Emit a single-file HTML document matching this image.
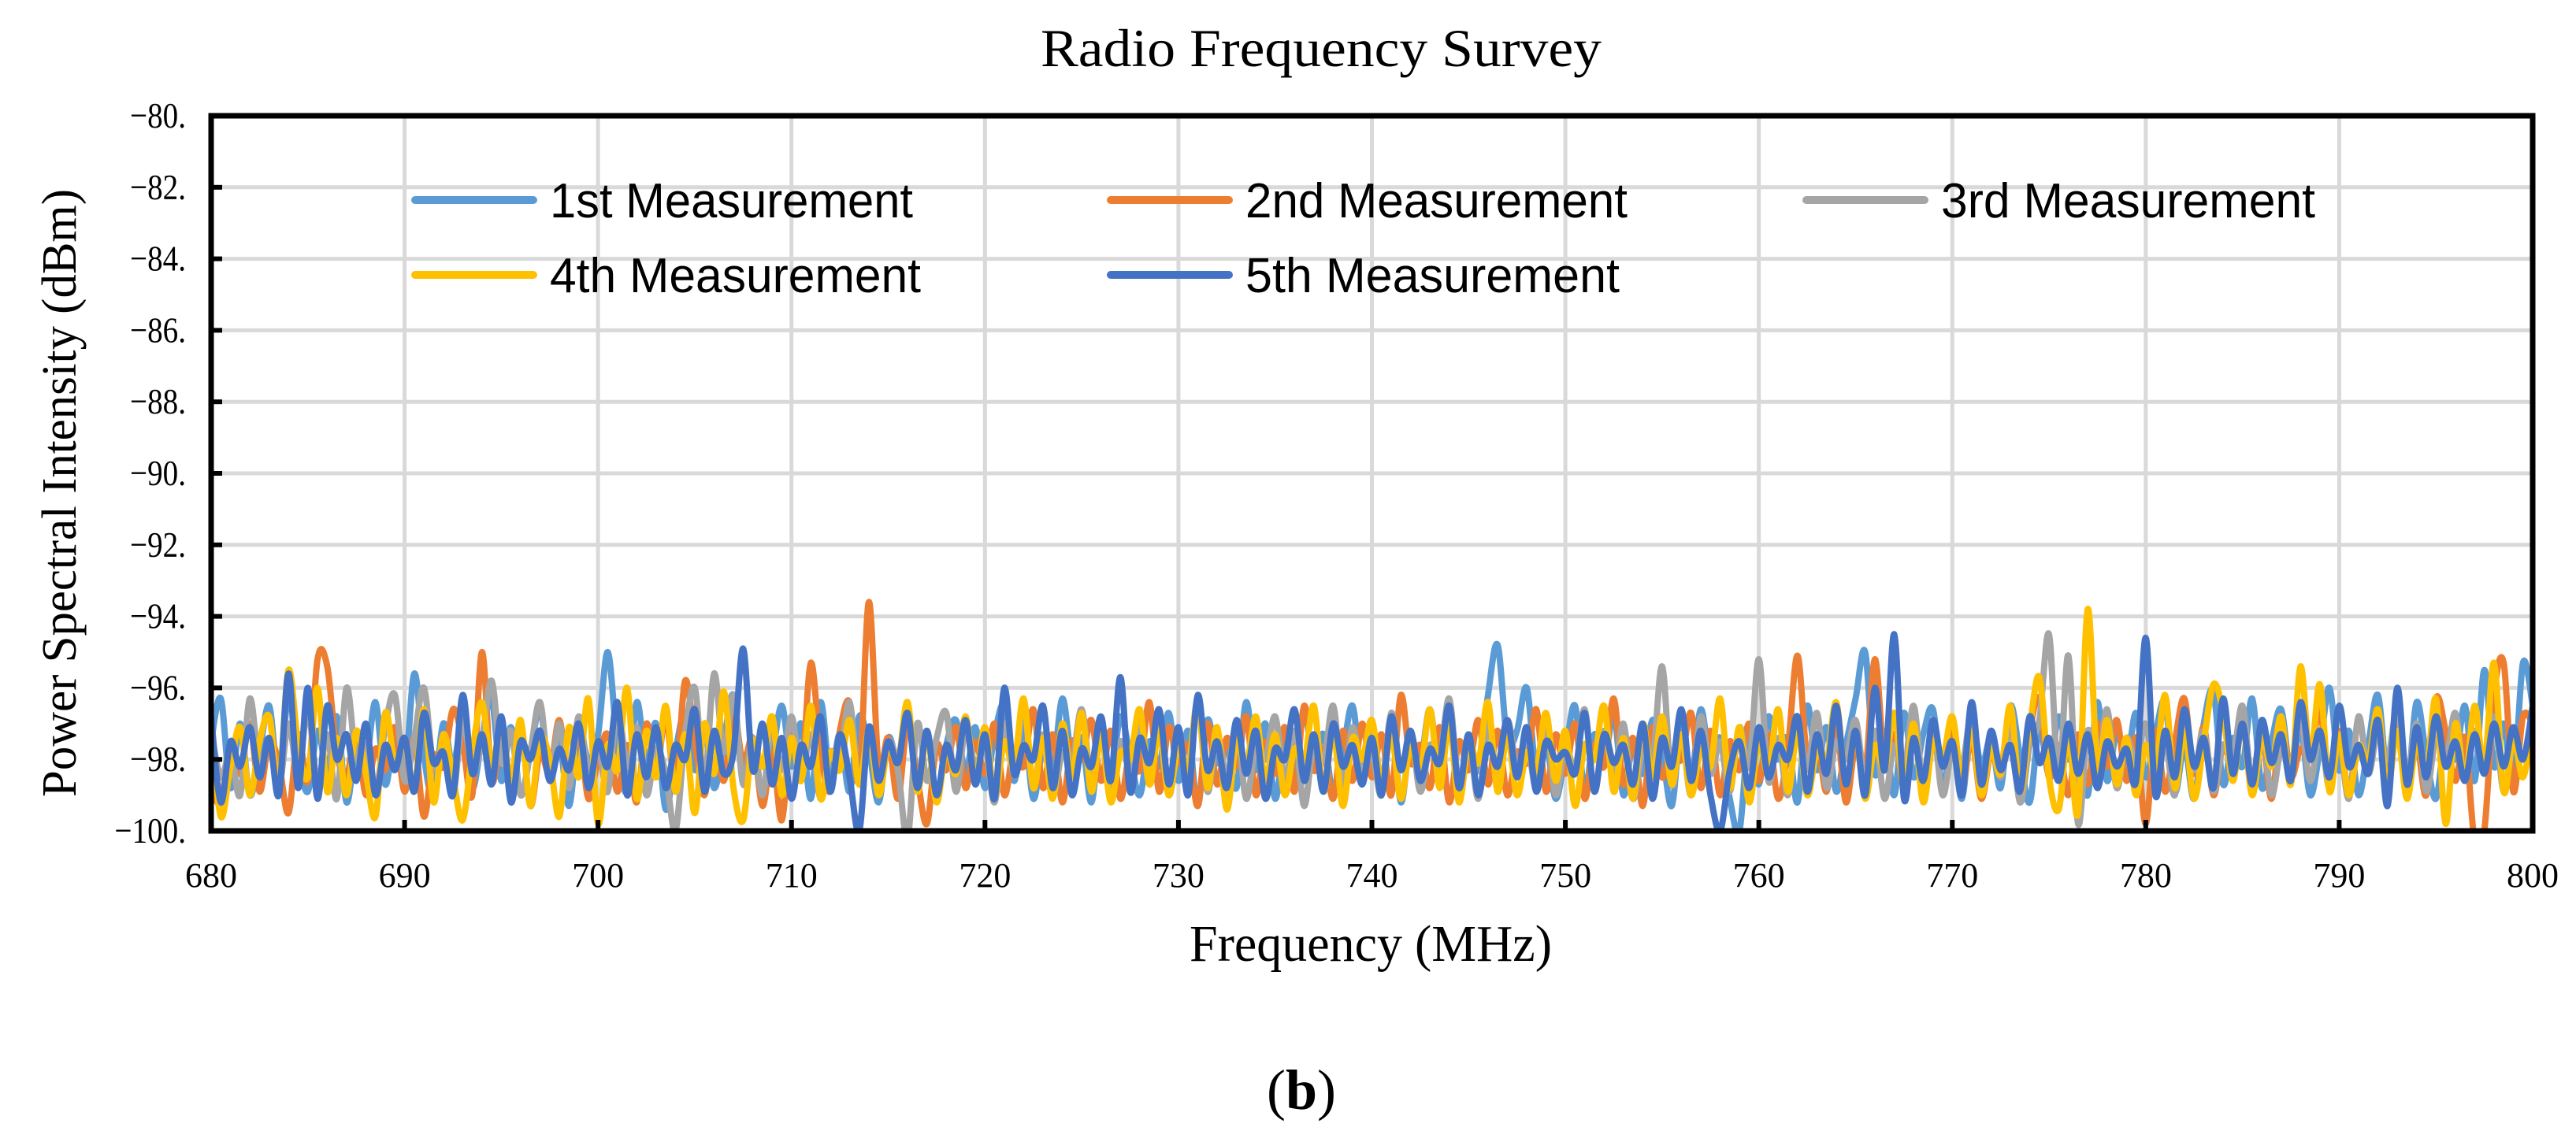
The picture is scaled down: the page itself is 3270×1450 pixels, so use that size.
<!DOCTYPE html>
<html><head><meta charset="utf-8"><style>
html,body{margin:0;padding:0;background:#fff;}
svg{display:block;}
</style></head><body>
<svg id="chart" width="3270" height="1450" viewBox="0 0 3270 1450" xmlns="http://www.w3.org/2000/svg">
<defs><clipPath id="plotclip"><rect x="268" y="147" width="2947" height="908"/></clipPath></defs>
<rect x="0" y="0" width="3270" height="1450" fill="#fff"/>
<text x="1677" y="84" text-anchor="middle" font-family="Liberation Serif, serif" font-size="68" textLength="712" lengthAdjust="spacingAndGlyphs">Radio Frequency Survey</text>
<g id="grid"></g>
<g id="series" clip-path="url(#plotclip)"></g>
<rect x="268" y="147" width="2947" height="908" fill="none" stroke="#000" stroke-width="7"/>
<g id="axes"></g>
<g id="legend"></g>
<text transform="translate(96,626) rotate(-90)" text-anchor="middle" font-family="Liberation Serif, serif" font-size="62" textLength="772" lengthAdjust="spacingAndGlyphs">Power Spectral Intensity (dBm)</text>
<text x="1740" y="1220" text-anchor="middle" font-family="Liberation Serif, serif" font-size="66" textLength="460" lengthAdjust="spacingAndGlyphs">Frequency (MHz)</text>
<text x="1652" y="1408" text-anchor="middle" font-family="Liberation Serif, serif" font-size="72">(<tspan font-weight="bold">b</tspan>)</text>
</svg>
<script>
const xStart = 680, xStep = 0.5;
const xTicks = [680,690,700,710,720,730,740,750,760,770,780,790,800];
const yTicks = [-80,-82,-84,-86,-88,-90,-92,-94,-96,-98,-100];
const yTickLabels = ["\u221280.","\u221282.","\u221284.","\u221286.","\u221288.","\u221290.","\u221292.","\u221294.","\u221296.","\u221298.","\u2212100."];
const seriesNames = ["1st Measurement","2nd Measurement","3rd Measurement","4th Measurement","5th Measurement"];
const s1 = [-97.5,-96.3,-98.8,-97.0,-99.0,-97.8,-96.5,-98.6,-96.2,-97.9,-98.9,-97.2,-98.3,-96.8,-99.2,-97.6,-98.1,-96.4,-98.7,-97.3,
-98.5,-95.6,-97.9,-99.1,-97.0,-98.2,-96.9,-98.8,-97.4,-96.3,-98.6,-97.1,-99.0,-97.8,-96.6,-98.4,-97.5,-99.3,-97.2,-98.0,
-97.3,-95.0,-97.6,-98.9,-96.4,-98.1,-97.0,-99.4,-97.8,-96.7,-98.3,-97.1,-98.8,-97.5,-96.2,-98.6,-97.4,-99.0,-97.9,-96.5,
-98.2,-97.0,-99.1,-96.4,-98.5,-97.3,-98.9,-96.8,-97.7,-99.2,-97.4,-98.0,-96.6,-98.7,-97.2,-99.0,-97.6,-96.9,-98.4,-97.1,
-98.8,-97.3,-96.5,-98.6,-97.0,-99.1,-97.7,-98.3,-96.3,-98.0,-97.4,-99.2,-97.1,-98.5,-96.8,-97.9,-99.0,-97.5,-98.2,-96.7,
-98.6,-97.2,-99.3,-96.9,-98.1,-97.6,-98.8,-96.4,-98.3,-97.0,-99.1,-97.5,-98.4,-96.7,-98.0,-97.3,-99.0,-97.8,-96.5,-98.5,
-97.1,-98.7,-96.8,-99.2,-97.4,-98.1,-96.6,-98.5,-97.0,-99.0,-97.6,-98.3,-96.2,-94.8,-97.5,-97.2,-96.0,-98.4,-97.5,-99.1,
-97.8,-96.5,-98.9,-97.3,-98.2,-96.7,-99.0,-97.5,-98.4,-96.9,-97.8,-99.3,-97.0,-98.5,-96.6,-98.1,-97.4,-99.1,-100.0,-97.2,
-98.7,-96.8,-98.0,-97.4,-99.2,-96.5,-98.3,-97.1,-98.9,-97.6,-96.3,-95.0,-98.4,-97.2,-99.0,-96.7,-98.5,-97.3,-96.6,-98.8,
-97.5,-99.1,-96.9,-98.2,-97.4,-98.8,-96.5,-97.9,-99.2,-97.1,-98.4,-96.8,-98.0,-97.5,-99.0,-96.4,-98.6,-97.2,-98.1,-96.7,
-98.5,-97.3,-96.4,-98.9,-97.6,-99.1,-97.0,-96.1,-98.7,-97.4,-98.2,-96.3,-98.8,-97.5,-96.6,-98.4,-97.1,-99.0,-97.7,-96.0,
-98.3,-97.2,-99.0,-97.6,-96.2,-98.5,-97.0,-98.8,-96.4,-97.9,-99.1,-97.3,-98.0,-96.5,-98.6,-95.5,-98.2,-97.0,-98.7,-95.3,
-96.5];
const s2 = [-98.8,-99.2,-97.6,-98.4,-97.0,-98.9,-97.5,-98.1,-99.5,-97.3,-98.6,-95.2,-95.4,-97.8,-98.5,-97.2,-99.0,-97.7,-98.3,-97.1,
-98.9,-97.4,-99.6,-97.9,-98.2,-96.6,-97.5,-99.0,-95.0,-98.6,-97.3,-98.8,-97.0,-99.3,-97.8,-98.4,-96.9,-98.7,-97.2,-99.1,
-98.0,-97.3,-98.9,-97.6,-99.2,-97.0,-98.4,-96.8,-98.7,-95.8,-97.5,-99.0,-97.2,-98.6,-96.7,-98.1,-97.4,-99.3,-97.8,-99.7,
-97.0,-98.5,-95.3,-97.8,-98.9,-97.2,-96.4,-98.6,-93.6,-98.2,-97.4,-99.1,-97.0,-98.5,-99.8,-97.6,-98.3,-97.1,-98.8,-97.5,
-98.4,-97.0,-99.0,-97.7,-98.2,-96.6,-98.8,-97.3,-99.2,-97.5,-98.0,-96.9,-98.6,-97.2,-99.1,-97.8,-98.3,-96.4,-98.9,-97.1,
-98.1,-97.6,-99.3,-97.0,-98.7,-97.4,-98.2,-96.8,-99.0,-97.5,-98.4,-97.1,-98.9,-96.5,-98.3,-97.7,-99.1,-97.2,-98.6,-97.0,
-98.5,-97.3,-99.0,-96.2,-98.1,-97.6,-98.8,-97.1,-99.2,-97.5,-98.3,-96.9,-98.7,-97.2,-99.0,-97.8,-98.1,-96.6,-98.9,-97.3,
-98.4,-97.0,-99.1,-97.6,-98.2,-96.3,-98.7,-97.4,-99.3,-97.1,-98.5,-97.8,-98.0,-96.7,-98.8,-97.2,-99.0,-97.5,-98.3,-97.0,
-98.6,-97.3,-99.1,-97.7,-95.1,-98.0,-97.4,-98.9,-97.0,-99.2,-97.6,-98.4,-95.2,-98.1,-97.3,-98.7,-97.0,-99.0,-97.5,-98.2,
-97.1,-98.8,-97.4,-99.1,-97.8,-98.3,-96.7,-98.9,-97.2,-96.3,-98.5,-97.6,-99.0,-97.3,-98.7,-97.0,-98.2,-96.9,-98.6,-97.4,
-99.8,-97.2,-98.9,-97.5,-96.3,-98.4,-97.1,-99.0,-97.6,-98.2,-96.8,-98.7,-97.3,-99.1,-97.0,-98.5,-97.7,-98.0,-96.6,-98.8,
-97.2,-99.0,-97.6,-98.3,-97.1,-98.8,-96.9,-98.4,-97.5,-99.0,-96.3,-97.2,-98.6,-97.4,-100.3,-100.0,-96.2,-95.3,-98.9,-96.8,
-97.0];
const s3 = [-97.2,-98.5,-97.8,-99.0,-96.3,-98.2,-97.5,-98.8,-97.0,-98.4,-96.6,-98.7,-97.3,-99.1,-96.0,-98.0,-97.6,-98.9,-97.1,-96.2,
-98.6,-97.4,-96.0,-98.2,-97.7,-99.0,-96.9,-98.3,-97.5,-95.8,-98.1,-97.2,-99.0,-97.8,-96.4,-98.5,-97.0,-98.8,-96.8,-98.3,
-97.6,-98.9,-96.5,-98.2,-97.1,-99.0,-97.7,-98.4,-100.0,-97.3,-96.0,-98.6,-95.6,-97.8,-96.2,-98.7,-97.4,-99.0,-97.0,-98.3,
-96.8,-98.5,-97.3,-99.1,-97.8,-98.0,-96.4,-98.7,-97.2,-99.0,-97.5,-98.3,-100.2,-97.0,-98.6,-97.4,-96.7,-98.9,-97.1,-98.2,
-97.6,-99.2,-97.0,-98.4,-96.5,-98.8,-97.3,-99.0,-97.8,-98.1,-96.6,-98.6,-97.2,-99.1,-97.5,-98.3,-96.9,-98.7,-97.1,-99.0,
-97.7,-98.2,-96.4,-98.9,-97.3,-98.5,-97.0,-99.1,-97.6,-98.0,-96.8,-98.6,-97.2,-99.3,-97.5,-98.1,-96.5,-98.8,-97.1,-98.4,
-97.8,-99.0,-96.7,-98.3,-97.2,-98.9,-97.6,-98.0,-96.3,-98.7,-97.4,-99.1,-97.0,-98.5,-96.9,-98.2,-97.5,-98.8,-97.1,-99.0,
-97.6,-98.3,-96.6,-98.9,-97.2,-98.5,-97.0,-99.1,-97.7,-98.1,-95.4,-98.7,-97.3,-99.0,-96.8,-98.4,-97.5,-98.9,-97.1,-98.2,
-95.2,-98.6,-97.4,-99.0,-97.0,-98.3,-96.7,-98.8,-97.5,-98.0,-96.9,-98.6,-97.2,-99.1,-97.6,-98.4,-96.5,-98.7,-97.1,-99.0,
-97.7,-98.2,-96.8,-98.9,-97.3,-98.5,-97.0,-99.2,-97.6,-96.9,-94.5,-98.6,-95.1,-99.8,-97.2,-98.4,-96.6,-98.8,-97.4,-98.1,
-97.0,-98.7,-97.5,-99.0,-96.7,-98.3,-97.2,-98.9,-97.6,-98.0,-96.5,-98.7,-97.1,-99.0,-97.7,-98.2,-96.9,-98.6,-97.3,-98.8,
-97.5,-99.1,-96.8,-98.4,-97.2,-98.0,-96.6,-98.5,-97.0,-98.9,-97.4,-98.1,-96.7,-98.6,-97.2,-98.3,-96.8,-98.9,-97.5,-98.0,
-97.4];
const s4 = [-97.0,-99.6,-98.2,-97.1,-99.0,-97.5,-96.8,-98.7,-95.5,-97.6,-98.5,-96.0,-98.9,-97.4,-99.0,-97.2,-98.4,-99.6,-96.7,-98.1,
-97.5,-98.8,-96.6,-99.2,-97.3,-98.5,-99.7,-97.8,-96.4,-98.2,-97.0,-98.6,-96.9,-99.3,-97.4,-98.0,-99.6,-97.1,-98.5,-96.3,
-99.8,-97.6,-98.3,-96.0,-99.1,-97.2,-98.5,-96.5,-98.9,-97.3,-99.5,-97.0,-98.4,-96.1,-98.8,-99.7,-97.5,-98.2,-96.8,-99.0,
-97.4,-98.6,-96.5,-99.1,-97.8,-98.3,-96.9,-98.7,-97.2,-99.0,-97.6,-98.1,-96.4,-98.9,-97.3,-99.2,-97.7,-98.4,-96.8,-98.6,
-97.1,-99.0,-97.5,-98.2,-96.3,-98.8,-97.4,-99.1,-97.0,-98.5,-96.7,-98.9,-97.3,-99.2,-97.8,-98.0,-96.6,-98.7,-97.2,-99.0,
-97.6,-98.3,-96.4,-98.8,-97.1,-99.4,-97.5,-98.2,-96.8,-98.6,-97.3,-99.0,-97.7,-98.1,-96.5,-98.9,-97.2,-99.3,-97.4,-98.0,
-96.9,-98.7,-97.3,-99.1,-97.6,-98.4,-96.6,-98.8,-97.0,-99.2,-97.5,-98.1,-96.4,-98.9,-97.3,-99.0,-97.8,-98.3,-96.7,-98.6,
-97.2,-99.3,-97.6,-98.0,-96.5,-98.9,-97.4,-99.1,-97.0,-98.5,-96.8,-98.7,-97.3,-99.0,-97.7,-98.2,-96.3,-98.8,-97.1,-99.2,
-97.5,-98.4,-96.6,-98.9,-97.2,-99.0,-97.8,-98.1,-96.4,-98.7,-97.3,-99.1,-97.6,-98.3,-96.7,-98.8,-97.0,-99.2,-97.5,-98.0,
-96.8,-98.6,-97.2,-99.0,-97.7,-98.4,-96.5,-98.9,-97.1,-95.7,-98.5,-99.4,-97.3,-99.5,-93.8,-98.2,-96.9,-98.7,-97.4,-99.0,
-97.6,-98.3,-96.2,-98.8,-97.2,-99.1,-97.5,-95.9,-96.7,-98.6,-97.0,-99.0,-97.4,-98.2,-96.8,-98.7,-95.4,-98.0,-95.9,-98.9,
-97.3,-99.0,-97.6,-98.1,-96.6,-98.8,-97.2,-99.1,-97.5,-98.4,-96.3,-99.8,-97.0,-98.6,-96.5,-98.2,-95.3,-98.9,-97.4,-98.5,
-97.0];
const s5 = [-96.8,-99.2,-97.5,-98.2,-97.1,-98.5,-97.4,-99.0,-95.6,-98.8,-96.0,-99.1,-96.5,-98.0,-97.3,-98.6,-97.0,-99.0,-97.6,-98.3,
-97.4,-98.9,-96.7,-98.1,-97.8,-99.0,-96.2,-98.4,-97.3,-98.7,-96.8,-99.2,-97.5,-98.0,-97.2,-98.6,-97.7,-98.3,-97.0,-98.8,
-97.5,-98.2,-96.4,-99.0,-97.3,-98.5,-97.1,-98.8,-97.6,-98.0,-96.6,-98.9,-97.2,-98.4,-97.8,-94.9,-98.3,-97.0,-98.7,-97.4,
-99.1,-97.6,-98.2,-96.8,-98.9,-97.3,-98.5,-100.0,-97.1,-98.6,-97.5,-98.1,-96.7,-98.8,-97.2,-99.0,-97.6,-98.3,-96.9,-98.7,
-97.3,-99.1,-96.0,-98.4,-97.6,-98.0,-96.5,-98.8,-97.2,-99.0,-97.7,-98.2,-96.8,-98.6,-95.7,-98.9,-97.4,-98.1,-96.6,-98.7,
-97.1,-99.0,-96.2,-98.3,-97.5,-98.8,-96.9,-98.4,-97.2,-99.1,-97.7,-98.0,-96.6,-98.6,-97.3,-98.9,-97.0,-98.2,-97.6,-98.7,
-97.4,-99.0,-96.8,-98.3,-97.2,-98.6,-97.7,-98.1,-96.5,-98.8,-97.3,-99.0,-97.6,-98.2,-96.9,-98.5,-97.1,-98.9,-97.5,-98.0,
-97.8,-98.4,-96.7,-98.9,-97.3,-98.1,-97.6,-98.7,-97.0,-99.1,-97.4,-98.2,-96.6,-98.6,-97.2,-99.0,-100.0,-98.3,-97.5,-98.8,
-97.1,-98.5,-97.6,-98.0,-96.8,-98.9,-97.3,-98.4,-96.5,-98.7,-97.2,-99.0,-96.0,-98.3,-94.5,-99.1,-97.4,-98.6,-96.9,-98.2,
-97.5,-99.0,-96.4,-98.7,-97.2,-98.3,-97.6,-98.9,-96.8,-98.1,-97.4,-98.6,-97.0,-98.4,-97.3,-98.8,-97.5,-98.2,-97.7,-98.6,
-94.6,-99.0,-97.2,-98.5,-96.6,-98.2,-97.4,-98.8,-96.3,-98.4,-97.0,-98.7,-96.9,-98.1,-97.3,-98.6,-96.4,-98.0,-97.2,-98.5,
-96.5,-98.2,-97.6,-98.4,-96.9,-99.3,-96.0,-98.7,-97.1,-98.5,-96.8,-98.2,-97.5,-98.6,-97.3,-98.4,-97.0,-98.2,-97.1,-98.0,
-96.5];

const NS = "http://www.w3.org/2000/svg";
const PX0 = 268, PX1 = 3215, PY0 = 147, PY1 = 1055;
const XMIN = 680, XMAX = 800, YMIN = -100, YMAX = -80;
function xScale(v){ return PX0 + (v - XMIN) / (XMAX - XMIN) * (PX1 - PX0); }
function yScale(v){ return PY1 - (v - YMIN) / (YMAX - YMIN) * (PY1 - PY0); }
function mk(tag, attrs, parent){ const e = document.createElementNS(NS, tag); for (const k in attrs) e.setAttribute(k, attrs[k]); parent.appendChild(e); return e; }

const grid = document.getElementById('grid');
const axes = document.getElementById('axes');
xTicks.forEach(function(t){
  const x = xScale(t);
  const g = mk('line', {x1:x, y1:PY0, x2:x, y2:PY1, stroke:'#d9d9d9', 'stroke-width':5}, grid);
  
  
  const tk = mk('line', {x1:x, y1:PY1, x2:x, y2:PY1-14, stroke:'#000', 'stroke-width':6}, axes);
  
  
  const lb = mk('text', {x:x, y:1126, 'text-anchor':'middle', 'font-family':'Liberation Serif, serif', 'font-size':44}, axes);
  lb.textContent = String(t);
  
  
});
yTicks.forEach(function(t, i){
  const y = yScale(t);
  const g = mk('line', {x1:PX0, y1:y, x2:PX1, y2:y, stroke:'#d9d9d9', 'stroke-width':5}, grid);
  
  
  const tk = mk('line', {x1:PX0, y1:y, x2:PX0+14, y2:y, stroke:'#000', 'stroke-width':6}, axes);
  
  
  const lb = mk('text', {x:236, y:y+15, 'text-anchor':'end', 'font-family':'Liberation Serif, serif', 'font-size':46, transform:'translate(236,0) scale(0.85,1) translate(-236,0)'}, axes);
  lb.textContent = yTickLabels[i];
  
  
});

const colors = ['#5B9BD5','#ED7D31','#A5A5A5','#FFC000','#4472C4'];
const allSeries = [s1, s2, s3, s4, s5];
const seriesG = document.getElementById('series');
function smoothPath(pts){
  let d = 'M' + pts[0][0].toFixed(1) + ',' + pts[0][1].toFixed(1);
  for (let i = 0; i < pts.length - 1; i++){
    const p0 = pts[Math.max(0, i-1)], p1 = pts[i], p2 = pts[i+1], p3 = pts[Math.min(pts.length-1, i+2)];
    const c1x = p1[0] + (p2[0]-p0[0])/6, c1y = p1[1] + (p2[1]-p0[1])/6;
    const c2x = p2[0] - (p3[0]-p1[0])/6, c2y = p2[1] - (p3[1]-p1[1])/6;
    d += 'C' + c1x.toFixed(1) + ',' + c1y.toFixed(1) + ' ' + c2x.toFixed(1) + ',' + c2y.toFixed(1) + ' ' + p2[0].toFixed(1) + ',' + p2[1].toFixed(1);
  }
  return d;
}
allSeries.forEach(function(vals, si){
  const pts = vals.map(function(v, i){ return [xScale(xStart + i * xStep), yScale(v)]; });
  const p = mk('path', {d: smoothPath(pts), fill:'none', stroke:colors[si], 'stroke-width':8, 'stroke-linejoin':'round', 'stroke-linecap':'round'}, seriesG);
  
  
});

const legend = document.getElementById('legend');
const legendPos = [[527,254],[1410,254],[2293,254],[527,349],[1410,349]];
const legendTextLen = [461,485,475,471,475];
seriesNames.forEach(function(name, i){
  const lx = legendPos[i][0], ly = legendPos[i][1];
  const ln = mk('line', {x1:lx, y1:ly, x2:lx+150, y2:ly, stroke:colors[i], 'stroke-width':10, 'stroke-linecap':'round'}, legend);
  
  
  const tx = mk('text', {x:lx+171, y:ly+22, 'font-family':'Liberation Sans, sans-serif', 'font-size':62, textLength:legendTextLen[i], lengthAdjust:'spacingAndGlyphs'}, legend);
  tx.textContent = name;
  
  
});
</script>
</body></html>
